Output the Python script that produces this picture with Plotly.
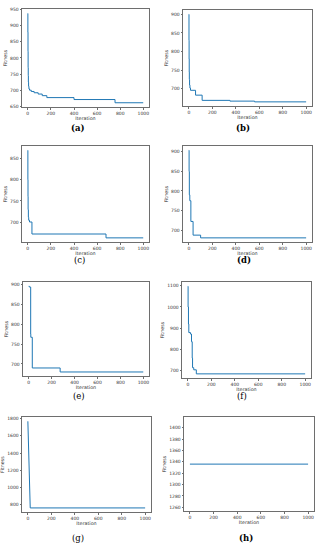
import plotly.graph_objects as go

W, H = 319, 550

# ---- data (best fitness at iteration change points) ----
a_iter = [0, 1, 2, 3, 4, 5, 7, 10, 15, 30, 55, 90, 125, 165, 400, 755, 999]
a_fit = [938, 880, 820, 770, 745, 725, 712, 704, 700, 696, 692, 688, 683, 677, 671, 661, 661]

b_iter = [0, 1, 2, 3, 4, 6, 9, 14, 57, 113, 350, 560, 999]
b_fit = [900, 830, 780, 745, 725, 710, 702, 696, 683, 669, 667, 665, 665]

c_iter = [0, 1, 2, 3, 5, 8, 15, 36, 677, 999]
c_fit = [868, 800, 760, 730, 712, 705, 701, 673, 664, 664]

d_iter = [0, 2, 4, 8, 17, 36, 100, 999]
d_fit = [904, 850, 790, 775, 722, 687, 680, 680]

e_iter = [0, 5, 17, 18, 31, 274, 999]
e_fit = [895, 893, 775, 767, 690, 680, 680]

f_iter = [0, 2, 5, 8, 22, 31, 37, 40, 50, 72, 999]
f_fit = [1097, 1000, 920, 880, 873, 837, 760, 715, 705, 686, 686]

g_iter = [0, 20, 999]
g_fit = [1770, 762, 762]

h_iter = [0, 999]
h_fit = [1336, 1336]

labels = ["(a)", "(b)", "(c)", "(d)", "(e)", "(f)", "(g)", "(h)"]
label_bold = [True, True, False, True, False, False, False, True]
x_ticks = [0, 200, 400, 600, 800, 1000]

series = [
    (a_iter, a_fit, "hv", 50, None),
    (b_iter, b_fit, "hv", 50, None),
    (c_iter, c_fit, "hv", 50, None),
    (d_iter, d_fit, "hv", 50, None),
    (e_iter, e_fit, "hv", 50, None),
    (f_iter, f_fit, "hv", 100, None),
    (g_iter, g_fit, "linear", 200, None),
    (h_iter, h_fit, "hv", 20, [1253, 1419]),
]

# panel boxes in pixels: left, right, top, bottom ; label centre x, y
boxes = [
    (22, 149, 7, 106, 78, 127),
    (183, 312, 8, 105, 243, 127),
    (22, 149, 145, 242, 79, 260),
    (183, 312, 145, 242, 244, 260),
    (23, 149, 282, 377, 79, 397),
    (182, 311, 282, 379, 242, 397),
    (22, 151, 418, 514, 78, 540),
    (184, 314, 418, 513, 246, 540),
]

fig = go.Figure()
FRAME = "#6e6e6e"
tickfont = dict(family="DejaVu Sans", size=4.5, color="#333")
titlefont = dict(family="DejaVu Sans", size=4.8, color="#333")

for i, ((xs, ys, shape, dt, yr), (l, r, t, b, lx, ly), lab, bold) in enumerate(
        zip(series, boxes, labels, label_bold)):
    n = i + 1
    sfx = "" if n == 1 else str(n)
    fig.add_trace(go.Scatter(x=xs, y=ys, mode="lines", line=dict(color="#1f77b4", width=1, shape=shape),
                             xaxis="x" + sfx, yaxis="y" + sfx, showlegend=False, hoverinfo="skip"))
    if yr is None:
        lo, hi = min(ys), max(ys)
        span = hi - lo
        yr = [lo - 0.05 * span, hi + 0.05 * span]
    fig.layout["xaxis" + sfx] = dict(
        domain=[l / W, r / W], anchor="y" + sfx, range=[-50, 1049], tickvals=x_ticks,
        showline=True, mirror=True, linecolor=FRAME, linewidth=0.8, ticks="outside", ticklen=1.5,
        tickwidth=0.6, tickcolor=FRAME, showgrid=False, zeroline=False, tickfont=tickfont,
        title=dict(text="Iteration", font=titlefont, standoff=1),
    )
    fig.layout["yaxis" + sfx] = dict(
        domain=[1 - b / H, 1 - t / H], anchor="x" + sfx, range=yr, dtick=dt, tick0=0,
        showline=True, mirror=True, linecolor=FRAME, linewidth=0.8, ticks="outside", ticklen=1.5,
        tickwidth=0.6, tickcolor=FRAME, showgrid=False, zeroline=False, tickfont=tickfont,
        title=dict(text="Fitness", font=titlefont, standoff=2),
    )
    txt = "<b>" + lab + "</b>" if bold else lab
    fig.add_annotation(text=txt, x=lx / W, y=1 - ly / H, xref="paper", yref="paper",
                       showarrow=False, xanchor="center", yanchor="middle",
                       font=dict(family="DejaVu Serif", size=8.5, color="#000"))

fig.update_layout(width=W, height=H, margin=dict(l=0, r=0, t=0, b=0),
                  paper_bgcolor="white", plot_bgcolor="white")
fig.write_html("out.html", config={"displayModeBar": False},
               post_script="document.body.style.margin='0';document.body.style.overflow='hidden';")
